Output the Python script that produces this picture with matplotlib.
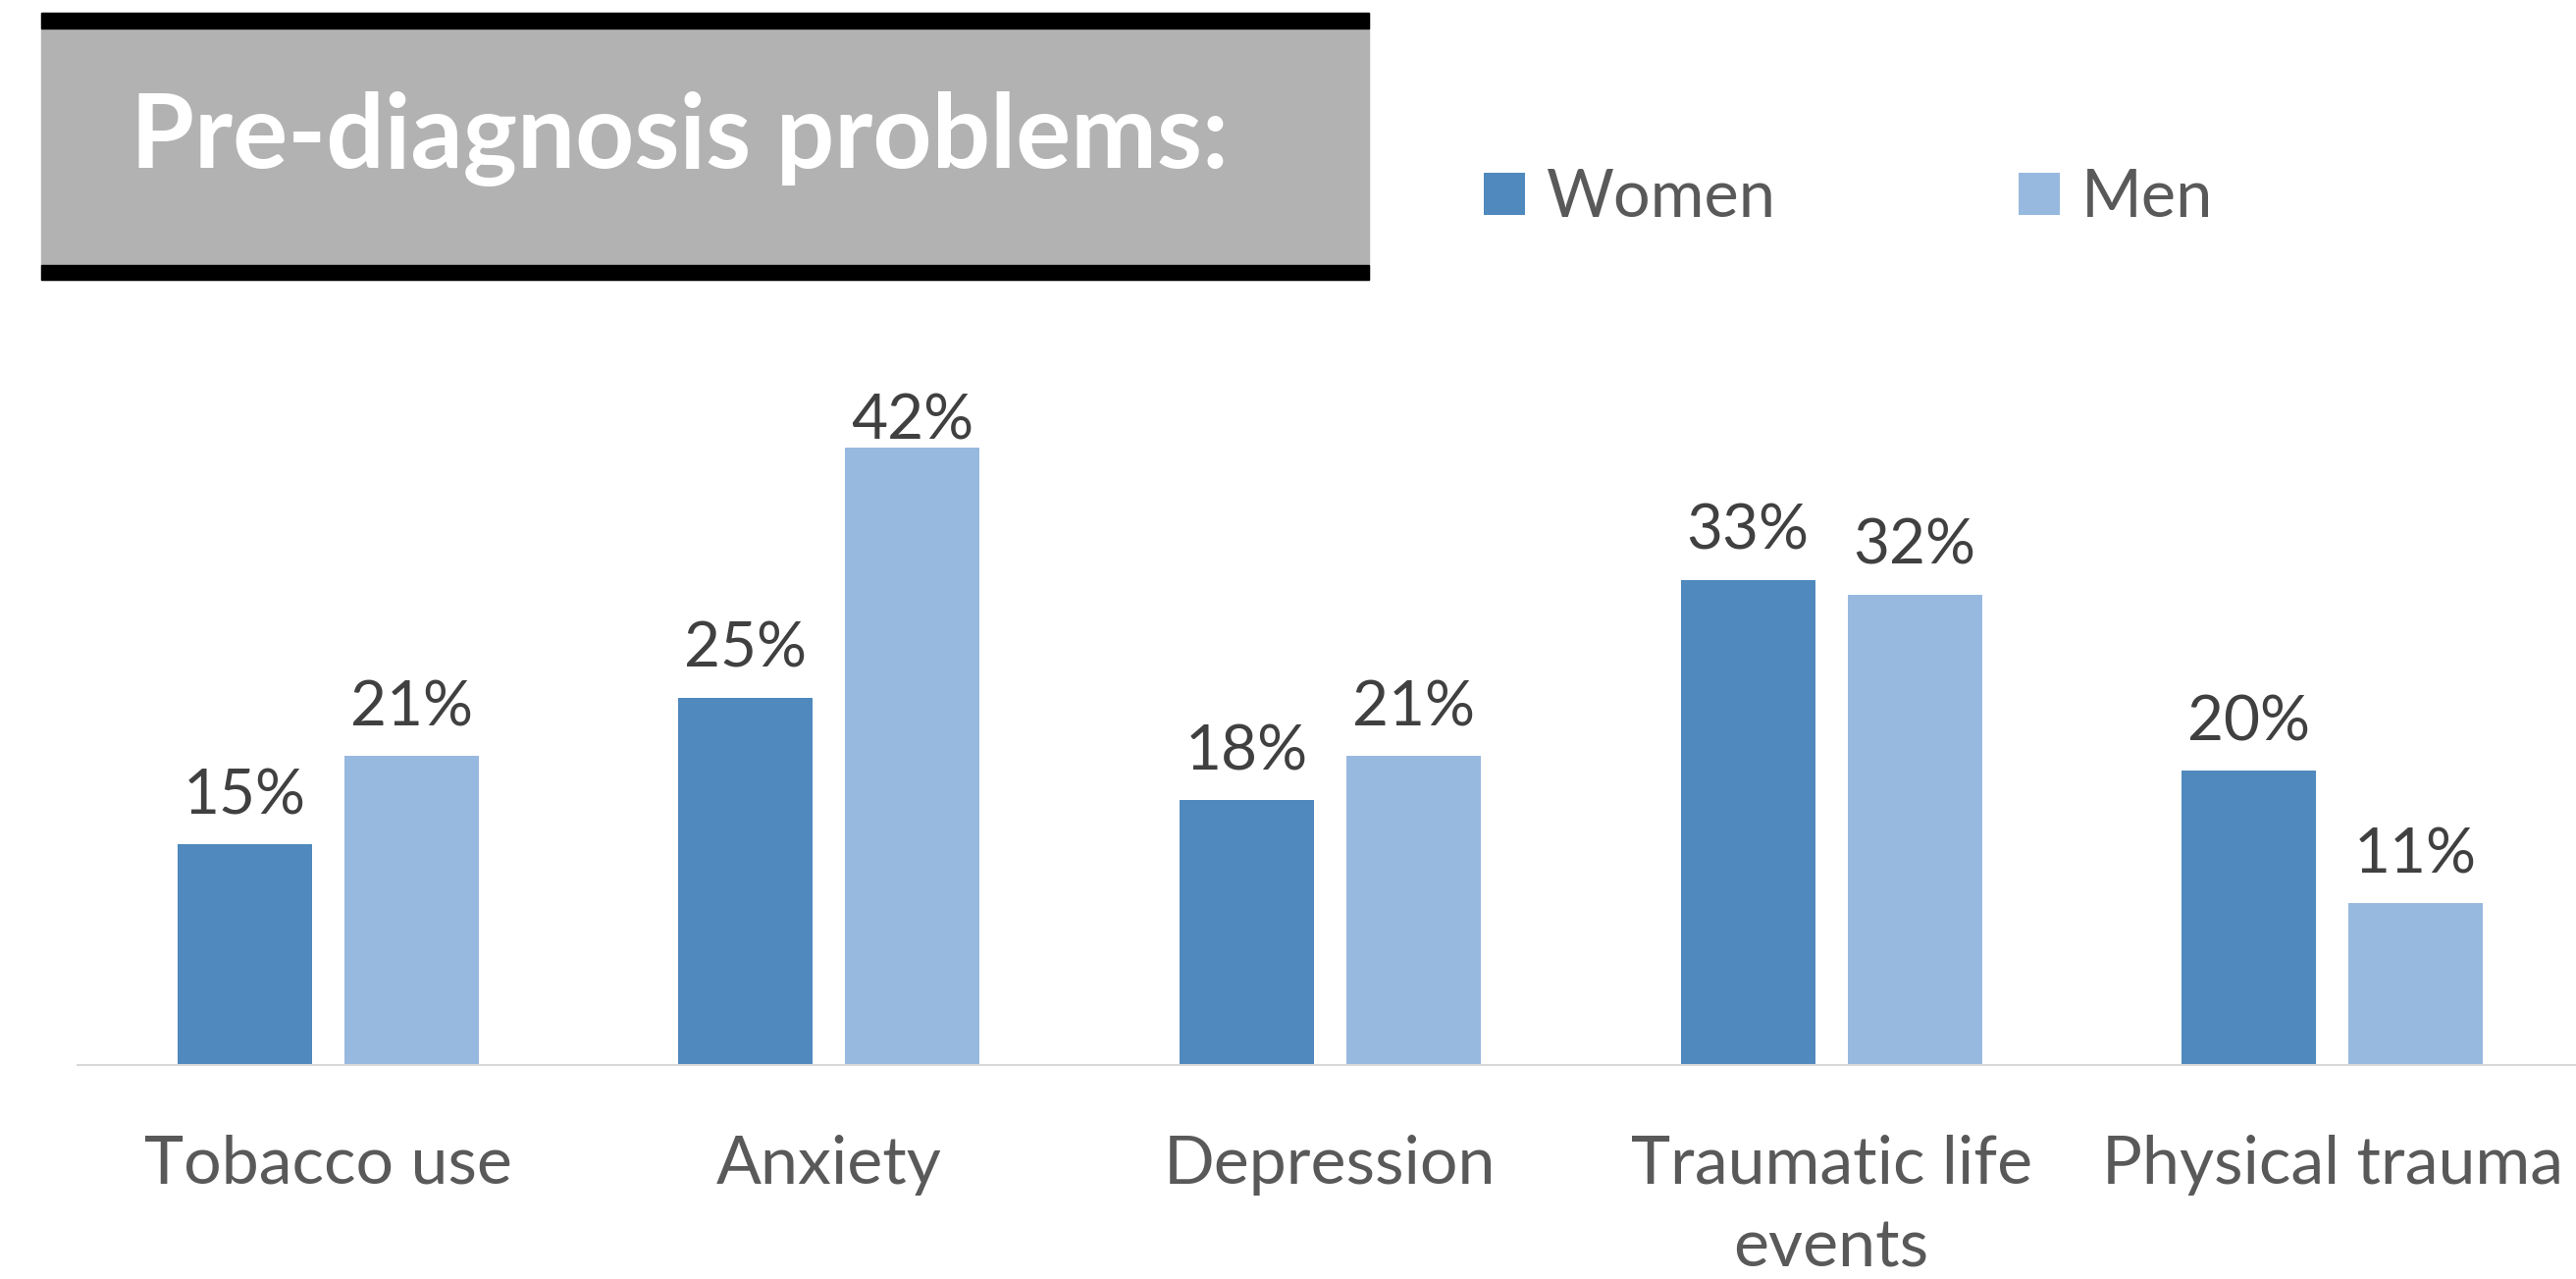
import numpy as np
import matplotlib
matplotlib.use("Agg")
import matplotlib.pyplot as plt
import matplotlib.patches as mpatches

categories = ["Tobacco use", "Anxiety", "Depression", "Traumatic life\nevents", "Physical trauma"]
women = [15, 25, 18, 33, 20]
men = [21, 42, 21, 32, 11]
series_names = ["Women", "Men"]
title = "Pre-diagnosis problems:"

W, H = 2625, 1303
DPI = 100
plt.rcParams["font.family"] = ["Lato", "DejaVu Sans"]

fig = plt.figure(figsize=(W / DPI, H / DPI), dpi=DPI)
fig.patch.set_facecolor("white")

# plot area in pixel terms (top-left origin), converted to figure fractions
ax_left, ax_right = 79, 2625
ax_top, ax_bottom = 400, 1085
ax = fig.add_axes([ax_left / W, 1 - ax_bottom / H,
                   (ax_right - ax_left) / W, (ax_bottom - ax_top) / H])

c_women = "#4f89bd"
c_men = "#98b9df"
x = np.arange(len(categories))
bw = 137 / 510.6
gap = 33 / 510.6
b1 = ax.bar(x - (bw + gap) / 2, women, bw, color=c_women, label=series_names[0])
b2 = ax.bar(x + (bw + gap) / 2, men, bw, color=c_men, label=series_names[1])

px_per_unit = 14.98
ymax = (ax_bottom - ax_top) / px_per_unit
ax.set_ylim(0, ymax)

# labels sit ~31px above the bar, but get squeezed down when they'd leave the plot area
cap_px = 47
for bars in (b1, b2):
    for rect, v in zip(bars, bars.datavalues):
        room = (ymax - v) * px_per_unit - cap_px
        gap_px = min(31, room)
        ax.annotate(f"{v:g}%", (rect.get_x() + rect.get_width() / 2, v),
                    xytext=(0, gap_px * 72 / DPI), textcoords="offset points",
                    ha="center", va="baseline", fontsize=46, color="#404040")

ax.set_xlim(-0.5, -0.5 + (ax_right - ax_left) / 510.6)
ax.set_xticks(x)
ax.set_xticklabels(categories, fontsize=49, color="#595959", linespacing=1.46)
ax.tick_params(axis="x", length=0, pad=51)
ax.set_yticks([])
for s in ("top", "right", "left"):
    ax.spines[s].set_visible(False)
ax.spines["bottom"].set_color("#d9d9d9")
ax.spines["bottom"].set_linewidth(1.5)
ax.set_facecolor("none")

# title box
def fig_rect(x0, y0, x1, y1, color):
    fig.patches.append(mpatches.Rectangle((x0 / W, 1 - y1 / H), (x1 - x0) / W, (y1 - y0) / H,
                                          transform=fig.transFigure, color=color, zorder=0))

fig_rect(42, 13, 1395, 285, "#b2b2b2")
fig_rect(42, 13, 1395, 29, "black")
fig_rect(42, 270, 1395, 285, "black")
fig.text(133 / W, 1 - 171 / H, title, fontsize=75.5, fontweight="bold", color="white",
         ha="left", va="baseline")

leg = fig.legend(handles=[b1, b2], loc="center left", bbox_to_anchor=(1452 / W, 1 - 202 / H),
                 ncol=2, frameon=False, fontsize=48, handlelength=0.63, handleheight=0.63,
                 handletextpad=0.33, columnspacing=3.7, labelcolor="#595959")

fig.savefig("out.png", dpi=DPI)
